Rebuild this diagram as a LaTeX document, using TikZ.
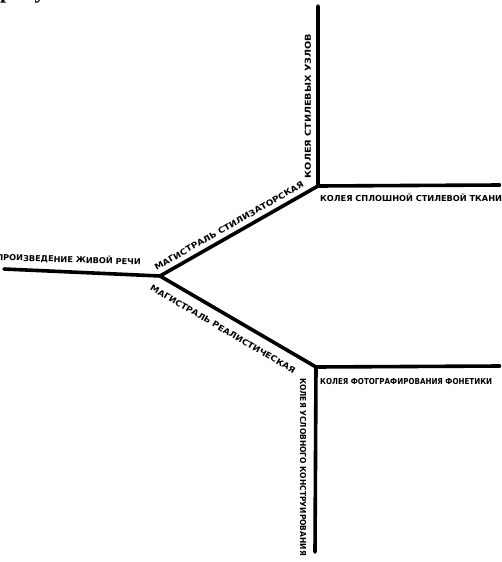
\documentclass[tikz,border=0pt]{standalone}
\usepackage{fontspec}
\newfontfamily\labfont{DejaVu Sans}
\newfontfamily\serfont{Liberation Serif}
\tikzset{
  road/.style={line width=3.6pt, line join=round, line cap=round},
  lbl/.style={font=\labfont\bfseries\fontsize{8.2}{8.2}\selectfont, inner sep=0pt},
}
\begin{document}
\begin{tikzpicture}[x=1pt,y=-1pt]
\useasboundingbox (0,0) rectangle (501,562);
\clip (0,0) rectangle (501,562);
\fill[white] (0,0) rectangle (501,562);
% junctions and ends
\coordinate (top) at (318,6);
\coordinate (j1) at (318,186);
\coordinate (r1) at (500,185);
\coordinate (j0) at (160,276);
\coordinate (l) at (4,269);
\coordinate (j2) at (316,367);
\coordinate (r2) at (500,366);
\coordinate (b) at (315,552);
% roads
\draw[road] (top) -- (j1) -- (r1);
\draw[road] (j1) -- (j0);
\draw[road] (l) -- (j0);
\draw[road] (j0) -- (j2) -- (r2);
\draw[road] (j2) -- (b);
% caption at the top, cut off
\node[font=\serfont\bfseries\fontsize{22}{22}\selectfont, anchor=base west, inner sep=0pt] (cap) at (0,-1.5) {рисунок};
% labels
\node[lbl, rotate=90] (t1) at (308,106) {\scalebox{1.18}[1]{КОЛЕЯ СТИЛЕВЫХ УЗЛОВ}};
\node[lbl, anchor=west] (t2) at (320,198) {КОЛЕЯ СПЛОШНОЙ СТИЛЕВОЙ ТКАНИ};
\node[lbl, rotate=29.7] (t3) at (229,226) {\scalebox{1.1}[1]{МАГИСТРАЛЬ СТИЛИЗАТОРСКАЯ}};
\node[lbl, anchor=east, rotate=-2] (t4) at (141,262) {ВОСПРОИЗВЕДЕНИЕ ЖИВОЙ РЕЧИ};
\node[lbl, rotate=-30.3] (t5) at (223,329) {\scalebox{1.08}[1]{МАГИСТРАЛЬ РЕАЛИСТИЧЕСКАЯ}};
\node[lbl, anchor=west] (t6) at (320,382) {\scalebox{0.87}[1]{КОЛЕЯ ФОТОГРАФИРОВАНИЯ ФОНЕТИКИ}};
\node[lbl, rotate=-90] (t7) at (303,467) {\scalebox{0.92}[1]{КОЛЕЯ УСЛОВНОГО КОНСТРУИРОВАНИЯ}};
\end{tikzpicture}
\end{document}
